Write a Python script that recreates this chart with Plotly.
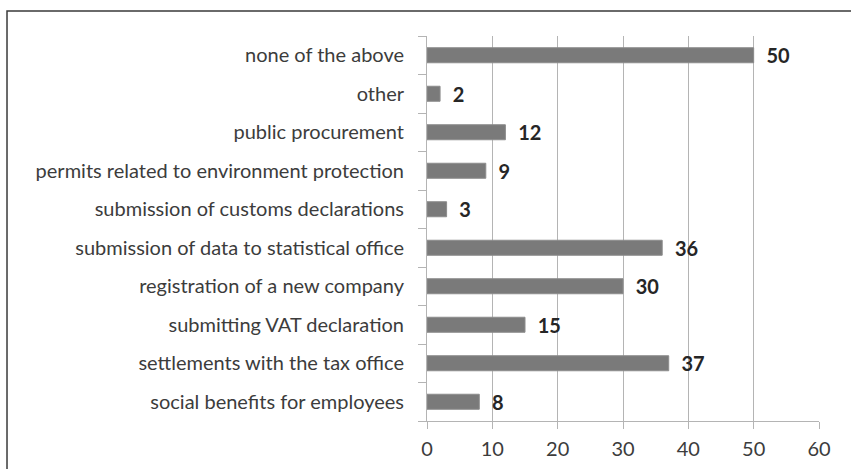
import plotly.graph_objects as go

categories = [
    "social benefits for employees",
    "settlements with the tax office",
    "submitting VAT declaration",
    "registration of a new company",
    "submission of data to statistical office",
    "submission of customs declarations",
    "permits related to environment protection",
    "public procurement",
    "other",
    "none of the above",
]
values = [8, 37, 15, 30, 36, 3, 9, 12, 2, 50]
x_ticks = [0, 10, 20, 30, 40, 50, 60]

FONT = "Lato"
GRID = "#b4b4b4"

fig = go.Figure(
    go.Bar(
        x=values,
        y=categories,
        orientation="h",
        marker=dict(color="#7a7a7a", line=dict(color="#8c8c8c", width=1)),
        text=values,
        texttemplate="  %{text}",
        textposition="outside",
        constraintext="none",
        textfont=dict(family=FONT, size=20, color="#262626", weight="bold"),
        cliponaxis=False,
    )
)

fig.update_layout(
    width=851,
    height=469,
    margin=dict(l=427, r=32, t=36, b=48),
    paper_bgcolor="white",
    plot_bgcolor="white",
    bargap=0.61,
    showlegend=False,
    font=dict(family=FONT, size=20, color="#3c3c3c"),
    xaxis=dict(
        range=[0, 60],
        tickvals=x_ticks,
        showgrid=True,
        gridcolor=GRID,
        gridwidth=1,
        zeroline=False,
        showline=True,
        linecolor=GRID,
        linewidth=1,
        ticks="outside",
        ticklen=7,
        tickcolor=GRID,
        ticklabelstandoff=3,
        automargin=False,
        tickfont=dict(family=FONT, size=20, color="#3c3c3c"),
        fixedrange=True,
    ),
    yaxis=dict(
        categoryorder="array",
        categoryarray=categories,
        showgrid=False,
        zeroline=False,
        showline=True,
        linecolor=GRID,
        linewidth=1,
        ticks="outside",
        tickson="boundaries",
        ticklen=8,
        tickcolor=GRID,
        ticklabelstandoff=18,
        automargin=False,
        tickfont=dict(family=FONT, size=20, color="#3c3c3c"),
        fixedrange=True,
    ),
    shapes=[
        dict(
            type="path",
            xref="paper",
            yref="paper",
            path="M -1.0714,-0.3 L -1.0714,1.0649 L 1.3,1.0649",
            line=dict(color="#3a3a3a", width=1.5),
        )
    ],
)

fig.write_html(
    "out.html",
    config={"displayModeBar": False},
    post_script="document.body.style.margin='0';",
)
